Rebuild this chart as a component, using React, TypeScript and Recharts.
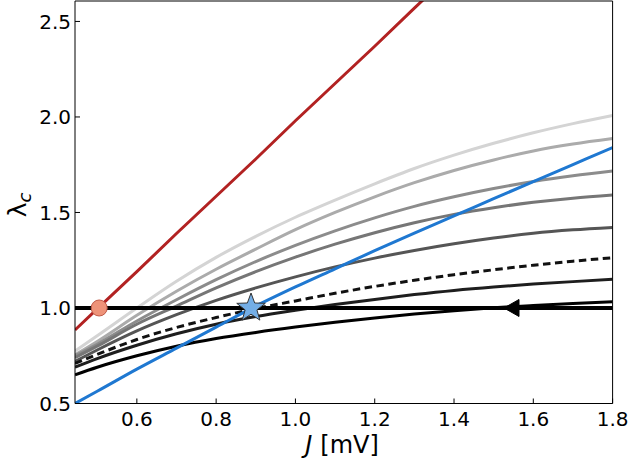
import {
  ComposedChart,
  Line,
  XAxis,
  YAxis,
  ReferenceLine,
  ReferenceDot,
} from "recharts";

// J grid [mV] and the lambda_c curves
const jValues = [0.444, 0.5, 0.6, 0.7, 0.8, 0.9, 1.0, 1.1, 1.2, 1.3, 1.4, 1.5, 1.6, 1.7, 1.8];
const gray1 = [0.775, 0.855, 1.0, 1.14, 1.265, 1.375, 1.475, 1.565, 1.65, 1.73, 1.8, 1.862, 1.917, 1.965, 2.008];
const gray2 = [0.755, 0.825, 0.962, 1.088, 1.203, 1.308, 1.41, 1.5, 1.582, 1.656, 1.72, 1.775, 1.822, 1.858, 1.887];
const gray3 = [0.75, 0.81, 0.932, 1.043, 1.148, 1.243, 1.328, 1.404, 1.472, 1.532, 1.582, 1.625, 1.662, 1.692, 1.717];
const gray4 = [0.74, 0.8, 0.915, 1.01, 1.105, 1.19, 1.266, 1.334, 1.394, 1.446, 1.49, 1.525, 1.553, 1.575, 1.592];
const gray5 = [0.72, 0.78, 0.88, 0.965, 1.04, 1.105, 1.163, 1.215, 1.261, 1.301, 1.336, 1.366, 1.391, 1.409, 1.422];
const dashed = [0.71, 0.757, 0.835, 0.898, 0.95, 0.997, 1.037, 1.077, 1.113, 1.145, 1.174, 1.2, 1.224, 1.245, 1.263];
const dark = [0.69, 0.735, 0.805, 0.865, 0.915, 0.955, 0.988, 1.018, 1.045, 1.07, 1.092, 1.11, 1.125, 1.138, 1.15];
const black = [0.65, 0.69, 0.75, 0.8, 0.84, 0.872, 0.9, 0.925, 0.948, 0.968, 0.986, 1.001, 1.013, 1.024, 1.033];
const blue = [0.5, 0.564, 0.68, 0.79, 0.9, 1.01, 1.11, 1.205, 1.3, 1.392, 1.482, 1.572, 1.662, 1.751, 1.84];
const red = [0.885, 0.995, 1.19, 1.39, 1.585, 1.78, 1.98, 2.175, 2.37, 2.57, 2.765, null, null, null, null];

// markers
const circlePoint = [0.505, 1.0];
const starPoint = [0.888, 1.0];
const arrowPoint = [1.545, 1.0];
const levelLine = 1.0;

const xTicks = [0.6, 0.8, 1.0, 1.2, 1.4, 1.6, 1.8];
const yTicks = [0.5, 1.0, 1.5, 2.0, 2.5];

const data = jValues.map((J, i) => ({
  J,
  g1: gray1[i],
  g2: gray2[i],
  g3: gray3[i],
  g4: gray4[i],
  g5: gray5[i],
  dashed: dashed[i],
  dark: dark[i],
  black: black[i],
  blue: blue[i],
  red: red[i],
}));

const FONT = "DejaVu Sans";
const tickStyle = { fill: "#000", fontSize: 20, fontFamily: FONT };

function Star({ cx, cy }: { cx: number; cy: number }) {
  const pts: string[] = [];
  for (let k = 0; k < 10; k++) {
    const r = k % 2 === 0 ? 15 : 6.2;
    const a = -Math.PI / 2 + (k * Math.PI) / 5;
    pts.push(`${cx + r * Math.cos(a)},${cy + r * Math.sin(a)}`);
  }
  return <polygon points={pts.join(" ")} fill="#74aee6" stroke="#333" strokeWidth={1} />;
}

function Arrow({ cx, cy }: { cx: number; cy: number }) {
  const pts = `${cx - 7.5},${cy} ${cx + 7.5},${cy - 8.5} ${cx + 7.5},${cy + 8.5}`;
  return <polygon points={pts} fill="#000" stroke="#000" strokeWidth={1} />;
}

const XLabel = () => (
  <text x={342} y={453} textAnchor="middle" fontFamily={FONT} fontSize={24} fill="#000">
    <tspan fontStyle="italic">J</tspan>
    <tspan dx={8}>[mV]</tspan>
  </text>
);

const YLabel = () => (
  <text
    x={26}
    y={205}
    transform="rotate(-90 26 205)"
    textAnchor="middle"
    fontFamily={FONT}
    fontSize={25}
    fill="#000"
  >
    λ
    <tspan fontSize={18} fontStyle="italic" dy={5}>
      c
    </tspan>
  </text>
);

export default function App() {
  const lineProps = {
    type: "monotone" as const,
    dot: false,
    isAnimationActive: false,
    strokeWidth: 3,
  };
  return (
    <div style={{ width: 630, height: 458, background: "#fff" }}>
      <style>{"body{margin:0}"}</style>
      <ComposedChart
        width={630}
        height={458}
        data={data}
        margin={{ top: 0, right: 16.4, bottom: 0, left: 0 }}
      >
        <XAxis
          dataKey="J"
          type="number"
          domain={[0.444, 1.8]}
          allowDataOverflow
          ticks={xTicks}
          tickFormatter={(v: number) => v.toFixed(1)}
          tick={tickStyle}
          tickSize={-5}
          tickMargin={13}
          height={54.5}
          stroke="#000"
          label={{ content: <XLabel /> }}
        />
        <XAxis
          xAxisId="top"
          orientation="top"
          dataKey="J"
          type="number"
          domain={[0.444, 1.8]}
          allowDataOverflow
          ticks={xTicks}
          tick={false}
          tickSize={-5}
          height={1}
          stroke="#000"
        />
        <YAxis
          type="number"
          domain={[0.5, 2.607]}
          allowDataOverflow
          ticks={yTicks}
          tickFormatter={(v: number) => v.toFixed(1)}
          tick={tickStyle}
          tickSize={-5}
          tickMargin={9}
          width={75}
          stroke="#000"
          label={{ content: <YLabel /> }}
        />
        <YAxis
          yAxisId="right"
          orientation="right"
          type="number"
          domain={[0.5, 2.607]}
          allowDataOverflow
          ticks={yTicks}
          tick={false}
          tickSize={-5}
          width={1}
          stroke="#000"
        />
        <Line {...lineProps} dataKey="g1" stroke="#d4d4d4" />
        <Line {...lineProps} dataKey="g2" stroke="#ababab" />
        <Line {...lineProps} dataKey="g3" stroke="#8c8c8c" />
        <Line {...lineProps} dataKey="g4" stroke="#767676" />
        <Line {...lineProps} dataKey="g5" stroke="#555555" />
        <Line {...lineProps} dataKey="dark" stroke="#1e1e1e" />
        <Line {...lineProps} dataKey="black" stroke="#000" />
        <Line {...lineProps} dataKey="dashed" stroke="#111" strokeDasharray="7.5 4.5" />
        <Line {...lineProps} dataKey="blue" stroke="#1f78d1" />
        <Line {...lineProps} type="linear" dataKey="red" stroke="#b22222" />
        <ReferenceLine y={levelLine} stroke="#000" strokeWidth={3.8} />
        <ReferenceDot
          x={circlePoint[0]}
          y={circlePoint[1]}
          r={8}
          fill="#ee9379"
          stroke="#c05a48"
          strokeWidth={1}
        />
        <ReferenceDot
          x={arrowPoint[0]}
          y={arrowPoint[1]}
          r={8}
          shape={(p: any) => <Arrow cx={p.cx} cy={p.cy} />}
        />
        <ReferenceDot
          x={starPoint[0]}
          y={starPoint[1]}
          r={15}
          shape={(p: any) => <Star cx={p.cx} cy={p.cy} />}
        />
      </ComposedChart>
    </div>
  );
}
